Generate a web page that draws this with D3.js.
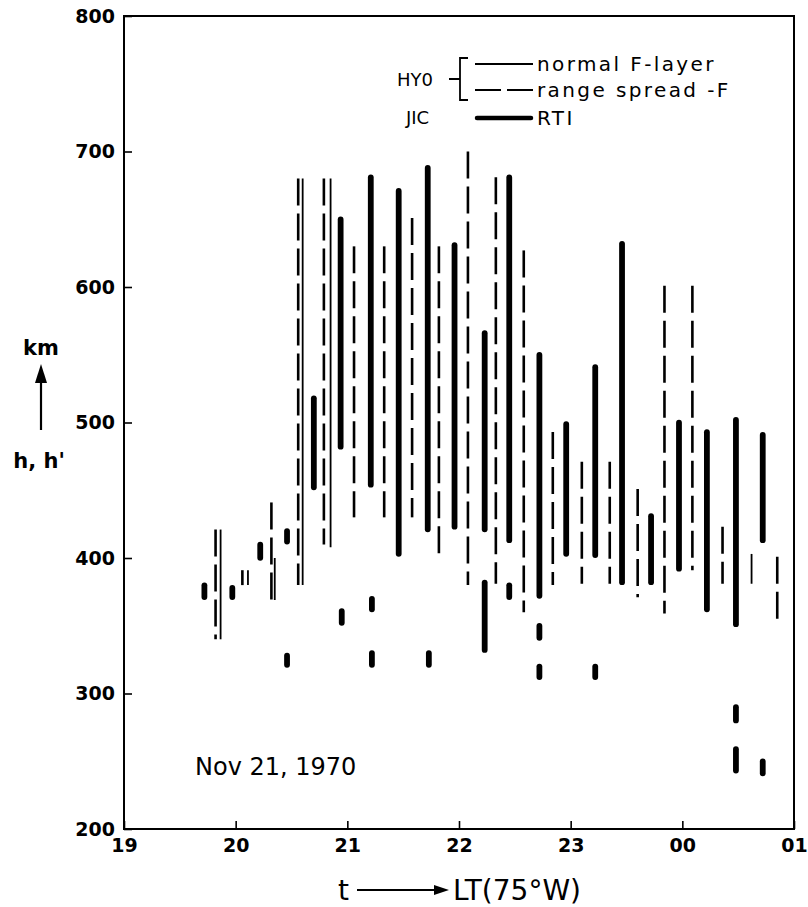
<!DOCTYPE html>
<html>
<head>
<meta charset="utf-8">
<script src="https://cdn.jsdelivr.net/npm/d3@7"></script>
<style>
  html, body { margin: 0; padding: 0; background: #fff; }
  svg { display: block; }
  text { font-family: "DejaVu Sans", sans-serif; fill: #000; }
</style>
</head>
<body>
<svg id="chart" width="808" height="907"></svg>
<script>
// ---------- DATA ----------
// x: local time in hours (24 = 00 h, 25 = 01 h), heights in km
const xTickValues = [19, 20, 21, 22, 23, 24, 25];
const xTickLabels = ["19", "20", "21", "22", "23", "00", "01"];
const yTickValues = [200, 300, 400, 500, 600, 700, 800];

// HYO normal F-layer (thin solid)
const normalF = [
  {t: 19.865, lo: 340, hi: 421},
  {t: 20.11,  lo: 380, hi: 391},
  {t: 20.35,  lo: 369, hi: 400},
  {t: 20.60,  lo: 380, hi: 680},
  {t: 20.85,  lo: 408, hi: 680},
  {t: 24.62,  lo: 381, hi: 403}
];

// HYO range spread-F (thin dashed)
const spreadF = [
  {t: 19.82, lo: 340, hi: 421},
  {t: 20.06, lo: 380, hi: 391},
  {t: 20.32, lo: 369, hi: 441},
  {t: 20.56, lo: 380, hi: 680},
  {t: 20.79, lo: 410, hi: 680},
  {t: 21.06, lo: 430, hi: 630},
  {t: 21.33, lo: 430, hi: 630},
  {t: 21.58, lo: 430, hi: 651},
  {t: 21.82, lo: 401, hi: 630},
  {t: 22.08, lo: 380, hi: 700},
  {t: 22.33, lo: 381, hi: 681},
  {t: 22.58, lo: 360, hi: 627},
  {t: 22.84, lo: 380, hi: 493},
  {t: 23.10, lo: 381, hi: 471},
  {t: 23.35, lo: 381, hi: 471},
  {t: 23.60, lo: 371, hi: 451},
  {t: 23.84, lo: 359, hi: 601},
  {t: 24.09, lo: 391, hi: 601},
  {t: 24.36, lo: 381, hi: 423},
  {t: 24.85, lo: 353, hi: 401}
];

// JIC RTI (thick)
const rti = [
  {t: 19.72, lo: 369, hi: 382},
  {t: 19.97, lo: 369, hi: 380},
  {t: 20.22, lo: 398, hi: 412},
  {t: 20.46, lo: 410, hi: 422},
  {t: 20.46, lo: 319, hi: 330},
  {t: 20.70, lo: 450, hi: 520},
  {t: 20.94, lo: 480, hi: 652},
  {t: 20.95, lo: 350, hi: 363},
  {t: 21.21, lo: 452, hi: 683},
  {t: 21.22, lo: 360, hi: 372},
  {t: 21.22, lo: 319, hi: 332},
  {t: 21.46, lo: 401, hi: 673},
  {t: 21.72, lo: 419, hi: 690},
  {t: 21.73, lo: 319, hi: 332},
  {t: 21.96, lo: 421, hi: 633},
  {t: 22.23, lo: 419, hi: 568},
  {t: 22.23, lo: 330, hi: 384},
  {t: 22.45, lo: 411, hi: 683},
  {t: 22.45, lo: 369, hi: 382},
  {t: 22.72, lo: 370, hi: 552},
  {t: 22.72, lo: 339, hi: 352},
  {t: 22.72, lo: 310, hi: 322},
  {t: 22.96, lo: 401, hi: 501},
  {t: 23.22, lo: 400, hi: 543},
  {t: 23.22, lo: 310, hi: 322},
  {t: 23.46, lo: 380, hi: 634},
  {t: 23.72, lo: 380, hi: 433},
  {t: 23.97, lo: 390, hi: 502},
  {t: 24.22, lo: 360, hi: 495},
  {t: 24.48, lo: 349, hi: 504},
  {t: 24.48, lo: 278, hi: 292},
  {t: 24.48, lo: 241, hi: 261},
  {t: 24.72, lo: 411, hi: 493},
  {t: 24.72, lo: 239, hi: 252}
];

// ---------- LAYOUT ----------
const svg = d3.select("#chart");
const L = 124, R = 794, T = 16, B = 829;
const x = d3.scaleLinear().domain([19, 25]).range([L, R]);
const y = d3.scaleLinear().domain([200, 800]).range([B, T]);

// frame
svg.append("rect").attr("x", L).attr("y", T).attr("width", R - L).attr("height", B - T)
  .attr("fill", "none").attr("stroke", "#000").attr("stroke-width", 2);

// axes
const xAxis = svg.append("g").attr("transform", `translate(0,${B})`)
  .call(d3.axisBottom(x).tickValues(xTickValues)
    .tickFormat((d, i) => xTickLabels[i]).tickSizeInner(-8).tickSizeOuter(0).tickPadding(10));
xAxis.select(".domain").remove();
xAxis.selectAll("line").attr("stroke", "#000").attr("stroke-width", 1.6);
xAxis.selectAll("text").style("font-size", "19px").style("font-weight", "bold")
  .style("font-family", "DejaVu Sans");

const yAxis = svg.append("g").attr("transform", `translate(${L},0)`)
  .call(d3.axisLeft(y).tickValues(yTickValues).tickSizeInner(-8).tickSizeOuter(0).tickPadding(9));
yAxis.select(".domain").remove();
yAxis.selectAll("line").attr("stroke", "#000").attr("stroke-width", 1.6);
yAxis.selectAll("text").style("font-size", "19px").style("font-weight", "bold")
  .style("font-family", "DejaVu Sans");

// ---------- MARKS ----------
svg.append("g").selectAll("line").data(normalF).join("line")
  .attr("x1", d => x(d.t)).attr("x2", d => x(d.t))
  .attr("y1", d => y(d.hi)).attr("y2", d => y(d.lo))
  .attr("stroke", "#000").attr("stroke-width", 1.8);

svg.append("g").selectAll("line").data(spreadF).join("line")
  .attr("x1", d => x(d.t)).attr("x2", d => x(d.t))
  .attr("y1", d => y(d.hi)).attr("y2", d => y(d.lo))
  .attr("stroke", "#000").attr("stroke-width", 2.6)
  .attr("stroke-dasharray", "27,8");

const rw = 5.8, rr = rw / 2;
svg.append("g").selectAll("line").data(rti).join("line")
  .attr("x1", d => x(d.t)).attr("x2", d => x(d.t))
  .attr("y1", d => { const a = y(d.hi), b = y(d.lo); return (b - a > 2 * rr) ? a + rr : (a + b) / 2; })
  .attr("y2", d => { const a = y(d.hi), b = y(d.lo); return (b - a > 2 * rr) ? b - rr : (a + b) / 2; })
  .attr("stroke", "#000").attr("stroke-width", rw).attr("stroke-linecap", "round");

// ---------- LEGEND ----------
const lg = svg.append("g");
lg.append("line").attr("x1", 475).attr("x2", 533).attr("y1", 64).attr("y2", 64)
  .attr("stroke", "#000").attr("stroke-width", 1.8);
lg.append("line").attr("x1", 475).attr("x2", 533).attr("y1", 90).attr("y2", 90)
  .attr("stroke", "#000").attr("stroke-width", 2).attr("stroke-dasharray", "26,6");
lg.append("line").attr("x1", 477).attr("x2", 531).attr("y1", 118).attr("y2", 118)
  .attr("stroke", "#000").attr("stroke-width", 4.5).attr("stroke-linecap", "round");
const legTxt = [["normal F-layer", 64], ["range spread -F", 90], ["RTI", 118]];
legTxt.forEach(([s, yy]) => {
  lg.append("text").attr("x", 537).attr("y", yy).attr("dy", "0.35em")
    .style("font-size", "20px").style("letter-spacing", "2.4px").text(s);
});
lg.append("text").attr("x", 397).attr("y", 80).attr("dy", "0.36em")
  .style("font-size", "18px").text("HY0");
lg.append("text").attr("x", 406).attr("y", 118).attr("dy", "0.36em")
  .style("font-size", "18px").text("JIC");
lg.append("path").attr("d", "M468,58 H460 V100 H468 M460,79 H449")
  .attr("fill", "none").attr("stroke", "#000").attr("stroke-width", 1.8);

// ---------- OTHER TEXT ----------
svg.append("text").attr("x", 195).attr("y", 775).style("font-size", "24px").text("Nov 21, 1970");

svg.append("text").attr("x", 41).attr("y", 355).attr("text-anchor", "middle")
  .style("font-size", "21px").style("font-weight", "bold").text("km");
svg.append("line").attr("x1", 41).attr("x2", 41).attr("y1", 430).attr("y2", 378)
  .attr("stroke", "#000").attr("stroke-width", 2.2);
svg.append("path").attr("d", "M41,364 L35,383 L47,383 Z").attr("fill", "#000");
svg.append("text").attr("x", 39).attr("y", 468).attr("text-anchor", "middle")
  .style("font-size", "21px").style("font-weight", "bold").text("h, h'");

svg.append("text").attr("x", 343.5).attr("y", 900).attr("text-anchor", "middle")
  .style("font-size", "28px").text("t");
svg.append("line").attr("x1", 357).attr("x2", 437).attr("y1", 890).attr("y2", 890)
  .attr("stroke", "#000").attr("stroke-width", 1.8);
svg.append("path").attr("d", "M449,890 L434,885 L434,895 Z").attr("fill", "#000");
svg.append("text").attr("x", 453).attr("y", 900).style("font-size", "28px").text("LT(75°W)");
</script>
</body>
</html>
